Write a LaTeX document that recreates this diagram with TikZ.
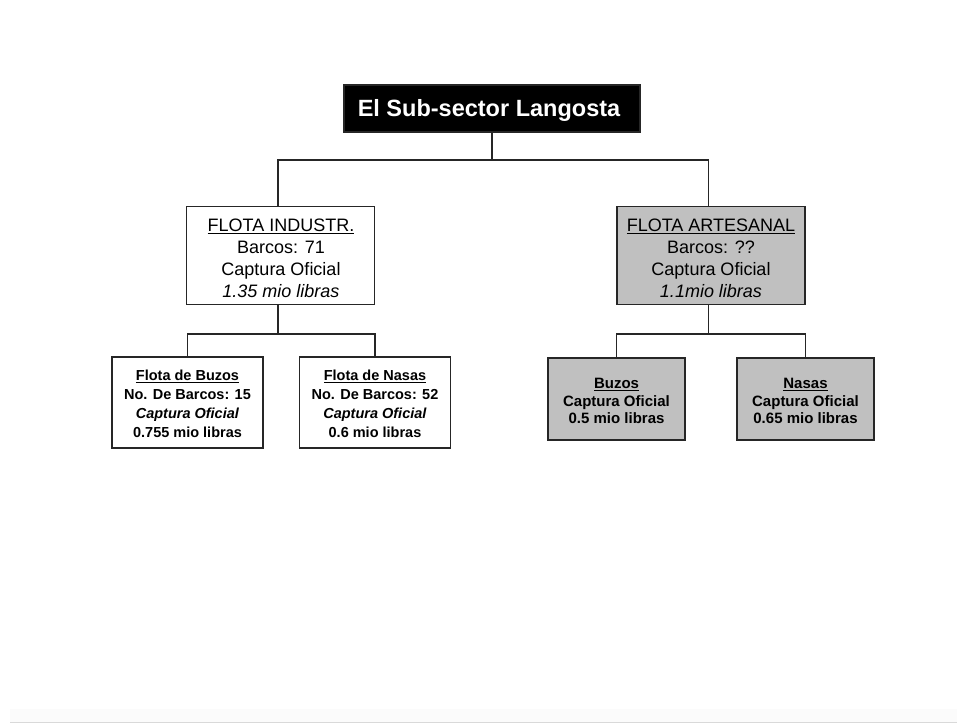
\documentclass[tikz,border=0pt]{standalone}
\usepackage{fontspec}
\setmainfont{Liberation Sans}
\definecolor{silver}{RGB}{192,192,192}
\begin{document}
\begin{tikzpicture}[x=1pt,y=-1pt,
  conn/.style={draw=black!85, line width=1.8pt},
  box/.style={draw=black!85, line width=1.8pt, inner sep=0pt, align=center, anchor=center},
  titlebox/.style={box, fill=black, text=white, font=\fontsize{23.5}{28}\selectfont\bfseries,
    minimum width=296pt, minimum height=47pt},
  midbox/.style={box, font=\fontsize{18}{22}\selectfont, minimum width=188pt, minimum height=98pt},
  subbox/.style={box, font=\fontsize{14.5}{19}\selectfont\bfseries, minimum width=151pt, minimum height=91pt},
  gsubbox/.style={box, fill=silver, font=\fontsize{15}{17.5}\selectfont\bfseries, minimum width=137pt, minimum height=82pt},
  lbl/.style={inner sep=0pt, align=center, anchor=center}
]
\useasboundingbox (0,0) rectangle (957,724);

% faint footer strip
\fill[black!1.5] (10,709) rectangle (957,722);
\draw[black!15, line width=1pt] (10,722.5) -- (957,722.5);

% root
\node[titlebox] (top) at (492,108.5) {};
\node[lbl, text=white, font=\fontsize{23.5}{28}\selectfont\bfseries] (toptxt) at (489,110.5) {El Sub-sector Langosta};

% fleets
\node[midbox] (ind) at (280.5,255.5) {};
\node[lbl, font=\fontsize{18}{22}\selectfont] (indtxt) at (281,258)
  {\underline{FLOTA INDUSTR.}\\Barcos: 71\\Captura Oficial\\\textit{1.35 mio libras}};
\node[midbox, fill=silver] (art) at (711,255.5) {};
\node[lbl, font=\fontsize{18}{22}\selectfont] (arttxt) at (711,258)
  {\underline{FLOTA ARTESANAL}\\Barcos: ??\\Captura Oficial\\\textit{1.1mio libras}};

% sub-fleets
\node[subbox] (ib) at (187.5,402.5) {};
\node[lbl, font=\fontsize{14.5}{19}\selectfont\bfseries] (ibtxt) at (187.5,404)
  {\underline{Flota de Buzos}\\No. De Barcos: 15\\\textit{Captura Oficial}\\0.755 mio libras};
\node[subbox] (in) at (375,402.5) {};
\node[lbl, font=\fontsize{14.5}{19}\selectfont\bfseries] (intxt) at (375,404)
  {\underline{Flota de Nasas}\\No. De Barcos: 52\\\textit{Captura Oficial}\\0.6 mio libras};
\node[gsubbox] (ab) at (616.5,399) {};
\node[lbl, font=\fontsize{15}{17.5}\selectfont\bfseries] (abtxt) at (616.5,401)
  {\underline{Buzos}\\Captura Oficial\\0.5 mio libras};
\node[gsubbox] (an) at (805.5,399) {};
\node[lbl, font=\fontsize{15}{17.5}\selectfont\bfseries] (antxt) at (805.5,401)
  {\underline{Nasas}\\Captura Oficial\\0.65 mio libras};

% connectors
\coordinate (bar1) at (0,160);
\coordinate (bar2) at (0,334);
\draw[conn] (top.south) -- (top.south |- bar1);
\draw[conn] ([xshift=-2.5pt]ind.north) |- (top.south |- bar1) -| ([xshift=-2.5pt]art.north);

\draw[conn] ([xshift=-2.5pt]ind.south) -- ([xshift=-2.5pt]ind.south |- bar2);
\draw[conn] (ib.north) |- (bar2 -| in.north) -- (in.north);

\draw[conn] ([xshift=-2.5pt]art.south) -- ([xshift=-2.5pt]art.south |- bar2);
\draw[conn] (ab.north) |- (bar2 -| an.north) -- (an.north);
\end{tikzpicture}
\end{document}
